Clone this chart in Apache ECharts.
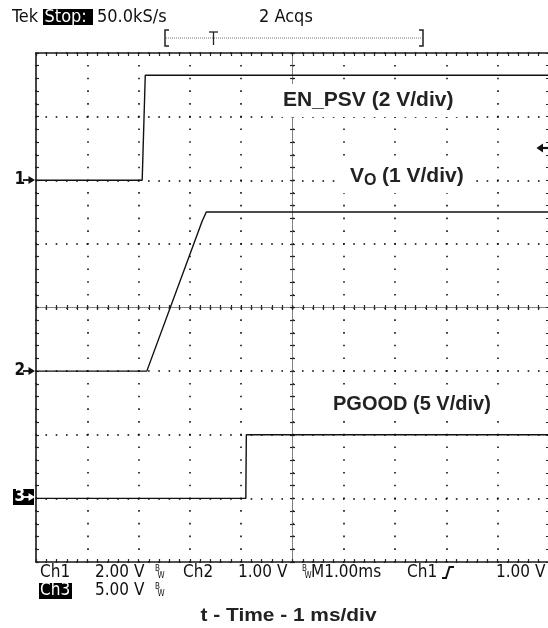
<!DOCTYPE html>
<html>
<head>
<meta charset="utf-8">
<script src="https://cdn.jsdelivr.net/npm/echarts@6/dist/echarts.min.js"></script>
<style>
html,body{margin:0;padding:0;background:#fff;}
#c{width:548px;height:628px;}
</style>
</head>
<body>
<div id="c"></div>
<script>
// ---- Data (time in ms relative to screen centre, values in volts) ----
const ch1Time = [-5, -2.93, -2.87, 5];
const ch1Volts = [0, 0, 3.3, 3.3];
const ch2Time = [-5, -2.84, -1.76, -1.68, 5];
const ch2Volts = [0, 0, 2.36, 2.5, 2.5];
const ch3Time = [-5, -0.91, -0.90, 5];
const ch3Volts = [0, 0, 5, 5];

// scope settings: volts per division and reference level (divisions from centre)
const voltsPerDiv = [2, 1, 5];
const refLevelDiv = [2, -1, -3];
const channelNames = ['EN_PSV', 'VO', 'PGOOD'];

function toDiv(times, volts, ch) {
  return times.map((t, i) => [t, volts[i] / voltsPerDiv[ch] + refLevelDiv[ch]]);
}

const scopeFont = '"DejaVu Sans Condensed", "DejaVu Sans", sans-serif';
const labelFont = '"Liberation Sans", Arial, sans-serif';

const chart = echarts.init(document.getElementById('c'), null, {renderer: 'canvas'});

function baseX(extra) {
  return Object.assign({
    type: 'value', min: -5, max: 5, interval: 1,
    axisLabel: {show: false}, splitLine: {show: false}
  }, extra);
}
function baseY(extra) {
  return Object.assign({
    type: 'value', min: -4, max: 4, interval: 1,
    axisLabel: {show: false}, splitLine: {show: false}
  }, extra);
}
const borderLine = {onZero: false, lineStyle: {color: '#1a1a1a', width: 1.6}};
const edgeTick = {show: true, inside: true, length: 3, lineStyle: {color: '#222', width: 1.2}};
const edgeMinor = {show: true, splitNumber: 5, length: 3, lineStyle: {color: '#222', width: 1.2}};
const centreLine = {onZero: true, onZeroAxisIndex: 0, lineStyle: {color: '#7a7a7a', width: 1, type: 'dotted'}};
const centreTick = {show: true, inside: true, length: 2.5, lineStyle: {color: '#222', width: 1.2}};
const centreMinor = {show: true, splitNumber: 5, length: 2.5, lineStyle: {color: '#222', width: 1.2}};

function txt(x, y, text, size, extra) {
  return {
    type: 'text', x: x, y: y, z: 100,
    style: Object.assign({
      text: text, font: size + 'px ' + scopeFont, fill: '#111',
      textAlign: 'left', textVerticalAlign: 'middle', verticalAlign: 'middle'
    }, extra || {})
  };
}
function rect(x, y, w, h, fill) {
  return {type: 'rect', z: 90, shape: {x: x, y: y, width: w, height: h}, style: {fill: fill}};
}
function pline(points, color, width, z) {
  return {type: 'polyline', z: z || 100, shape: {points: points}, style: {stroke: color, lineWidth: width, fill: null}};
}
function poly(points, color) {
  return {type: 'polygon', z: 101, shape: {points: points}, style: {fill: color}};
}
function bw(x, y) {
  return [
    txt(x, y - 3, 'B', 8, {font: '8px ' + scopeFont}),
    txt(x + 2.5, y + 4, 'W', 8, {font: '8px ' + scopeFont})
  ];
}
function chMarker(label, y, inverted) {
  const els = [];
  const col = inverted ? '#fff' : '#111';
  if (inverted) els.push(rect(13, y - 8, 21, 16, '#000'));
  els.push(txt(14.5, y, label, 17, {fill: col, font: 'bold 17px ' + scopeFont}));
  els.push(pline([[23, y], [31, y]], col, 1.8));
  els.push(poly([[28.5, y - 4], [35, y], [28.5, y + 4]], col));
  return els;
}

const labelStyle = (size) => ({font: 'bold ' + size + 'px ' + labelFont, fill: '#222'});

const graphics = [].concat(
  // header
  [txt(12, 17, 'Tek', 18),
   rect(43, 9, 50, 16, '#000'),
   txt(44.5, 17, 'Stop:', 18, {fill: '#fff'}),
   txt(97, 17, '50.0kS/s', 18),
   txt(259, 17, '2 Acqs', 18),
   pline([[169, 30], [165, 30], [165, 46], [169, 46]], '#222', 1.5),
   pline([[419, 30], [423, 30], [423, 46], [419, 46]], '#222', 1.5),
   {type: 'line', z: 99, shape: {x1: 166, y1: 38, x2: 422, y2: 38}, style: {stroke: '#777', lineWidth: 1, lineDash: [1, 1]}},
   pline([[209, 32], [218, 32]], '#222', 1.3),
   pline([[213.5, 32], [213.5, 45]], '#222', 1.3)],
  // channel markers
  chMarker('1', 180, false),
  chMarker('2', 371, false),
  chMarker('3', 497, true),
  // trigger level arrow
  [pline([[541, 148], [548, 148]], '#111', 2.2),
   poly([[536.5, 148], [543, 143.5], [543, 152.5]], '#111')],
  // in-plot labels
  [rect(278, 84, 185, 33, '#fff'),
   {type: 'text', x: 283, y: 100, z: 100, style: Object.assign({text: 'EN_PSV (2 V/div)', textVerticalAlign: 'middle', verticalAlign: 'middle'}, labelStyle(21))},
   rect(336, 160, 134, 33, '#fff'),
   {type: 'text', x: 350, y: 176, z: 100, style: Object.assign({text: 'V', textVerticalAlign: 'middle', verticalAlign: 'middle'}, labelStyle(21))},
   {type: 'text', x: 364, y: 181, z: 100, style: Object.assign({text: 'O', textVerticalAlign: 'middle', verticalAlign: 'middle'}, labelStyle(16))},
   {type: 'text', x: 382, y: 176, z: 100, style: Object.assign({text: '(1 V/div)', textVerticalAlign: 'middle', verticalAlign: 'middle'}, labelStyle(21))},
   rect(328, 388, 178, 32, '#fff'),
   {type: 'text', x: 333, y: 404, z: 100, style: Object.assign({text: 'PGOOD (5 V/div)', textVerticalAlign: 'middle', verticalAlign: 'middle'}, labelStyle(20))}],
  // bottom readout
  [txt(40, 573, 'Ch1', 17),
   txt(95, 573, '2.00 V', 17),
   txt(183, 573, 'Ch2', 17),
   txt(238, 573, '1.00 V', 17),
   txt(311, 573, 'M1.00ms', 17),
   txt(407, 573, 'Ch1', 17),
   pline([[442, 578], [446, 578], [449.5, 567], [454, 567]], '#111', 2),
   txt(496, 573, '1.00 V', 17),
   rect(39, 583, 33, 16, '#000'),
   txt(40, 591, 'Ch3', 17, {fill: '#fff'}),
   txt(95, 591, '5.00 V', 17)],
  bw(155, 572), bw(302, 572), bw(155, 590),
  // axis title
  [{type: 'text', x: 288.5, y: 616, z: 100, scaleX: 1.16,
    style: {text: 't - Time - 1 ms/div', font: 'bold 18px ' + labelFont, fill: '#222',
            textAlign: 'center', align: 'center', textVerticalAlign: 'middle', verticalAlign: 'middle'}}]
);

const option = {
  animation: false,
  backgroundColor: '#fff',
  grid: {left: 36, top: 53, width: 513, height: 509, containLabel: false, outerBoundsMode: 'none'},
  xAxis: [
    baseX({position: 'bottom', axisLine: borderLine, axisTick: edgeTick, minorTick: edgeMinor,
      splitLine: {show: true, lineStyle: {color: '#000', width: 1.5, type: [1.6, 11.12], dashOffset: 0.8}}}),
    baseX({position: 'top', axisLine: borderLine, axisTick: edgeTick, minorTick: edgeMinor}),
    baseX({position: 'bottom', axisLine: centreLine, axisTick: centreTick, minorTick: centreMinor}),
    baseX({position: 'top', axisLine: centreLine, axisTick: centreTick, minorTick: centreMinor})
  ],
  yAxis: [
    baseY({position: 'left', axisLine: borderLine, axisTick: edgeTick, minorTick: edgeMinor,
      splitLine: {show: true, lineStyle: {color: '#000', width: 1.5, type: [1.6, 8.66], dashOffset: 0.8}}}),
    baseY({position: 'right', axisLine: borderLine, axisTick: edgeTick, minorTick: edgeMinor}),
    baseY({position: 'left', axisLine: centreLine, axisTick: centreTick, minorTick: centreMinor}),
    baseY({position: 'right', axisLine: centreLine, axisTick: centreTick, minorTick: centreMinor})
  ],
  series: [
    {name: channelNames[0], type: 'line', xAxisIndex: 0, yAxisIndex: 0, data: toDiv(ch1Time, ch1Volts, 0),
     showSymbol: false, lineStyle: {color: '#111', width: 1.4}, z: 5},
    {name: channelNames[1], type: 'line', xAxisIndex: 0, yAxisIndex: 0, data: toDiv(ch2Time, ch2Volts, 1),
     showSymbol: false, lineStyle: {color: '#111', width: 1.4}, z: 5},
    {name: channelNames[2], type: 'line', xAxisIndex: 0, yAxisIndex: 0, data: toDiv(ch3Time, ch3Volts, 2),
     showSymbol: false, lineStyle: {color: '#111', width: 1.4}, z: 5}
  ],
  graphic: graphics
};
chart.setOption(option);
</script>
</body>
</html>
